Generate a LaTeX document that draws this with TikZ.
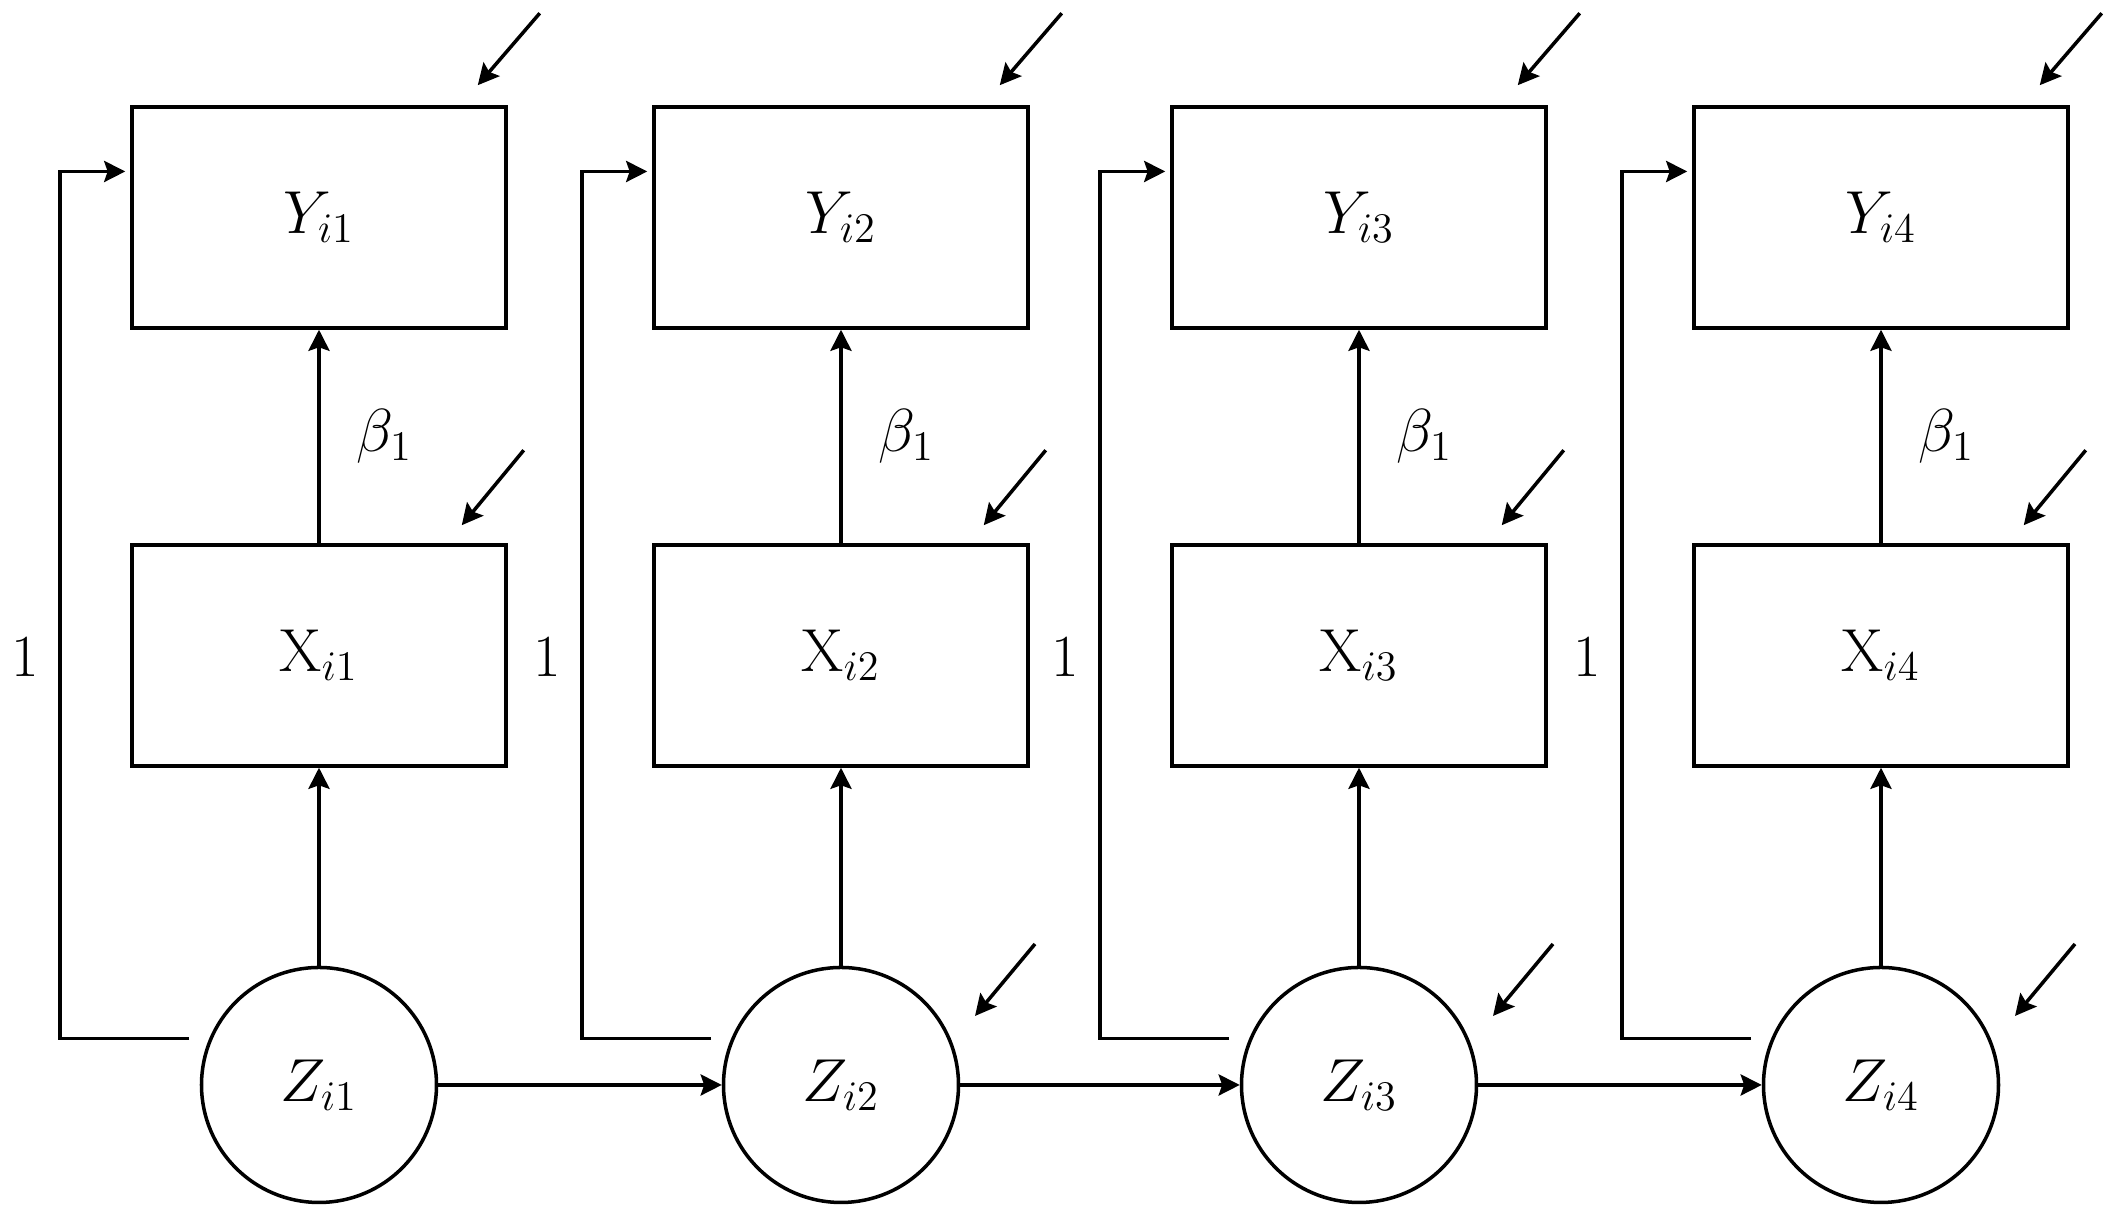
\documentclass[tikz,border=0pt]{standalone}
\usetikzlibrary{arrows.meta,calc}
\tikzset{arr/.style={-{Stealth[length=6pt,width=6pt,inset=1pt]}},
  obs/.style={draw, minimum width=3.74cm, minimum height=2.21cm},
  lat/.style={draw, circle, minimum size=2.35cm}}

\begin{document}
\begin{tikzpicture}[line width=1pt, font=\fontsize{17}{20}\selectfont]
  \useasboundingbox (0,0) rectangle (21.26,12.13);
  \foreach \i/\cx in {1/3.19, 2/8.41, 3/13.59, 4/18.81} {
    \node[obs] (y\i) at (\cx,9.955) {$Y_{i\i}$};
    \node[obs] (x\i) at (\cx,5.575) {$\mathrm{X}_{i\i}$};
    \node[lat] (z\i) at (\cx,1.28) {$Z_{i\i}$};
    \draw[arr] (x\i) -- node[right=2.4mm]{$\beta_1$} (y\i);
    \draw[arr] (z\i) -- (x\i);
    \draw[arr, shorten <=2mm, shorten >=0.5mm] (z\i.157) -- ++(-1.49,0) |- node[pos=0.22, left=0.8mm]{1} ([yshift=4.6mm]y\i.west);
    \draw[arr] ([shift={(0.32,0.92)}]y\i.north east) -- ++(-0.62,-0.72);
    \draw[arr] ([shift={(0.16,0.93)}]x\i.north east) -- ++(-0.62,-0.75);
  }
  \foreach \i/\j in {1/2, 2/3, 3/4} {
    \draw[arr] (z\i) -- (z\j);
    \draw[arr] ([shift={(1.94,1.41)}]z\j.center) -- ++(-0.60,-0.72);
  }
\end{tikzpicture}
\end{document}
